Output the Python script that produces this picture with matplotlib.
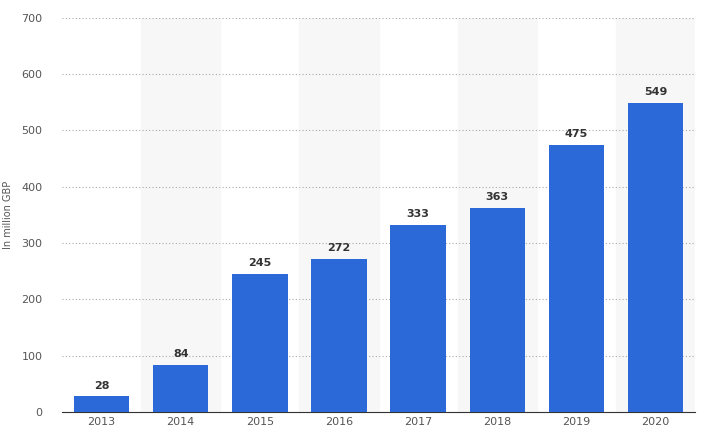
import matplotlib
matplotlib.use("Agg")
import matplotlib.pyplot as plt

years = ["2013", "2014", "2015", "2016", "2017", "2018", "2019", "2020"]
values = [28, 84, 245, 272, 333, 363, 475, 549]

fig = plt.figure(figsize=(7.05, 4.45), dpi=100)
ax = fig.add_axes([0.088, 0.074, 0.898, 0.886])

x = list(range(len(years)))
for i in x:
    if i % 2 == 1:
        ax.axvspan(i - 0.5, i + 0.5, color="#f7f7f7", zorder=0)

bars = ax.bar(x, values, width=0.7, color="#2a69d7", zorder=3)
for xi, v in zip(x, values):
    ax.text(xi, v + 10, str(v), ha="center", va="bottom", fontsize=8,
            fontweight="bold", color="#333333", zorder=4)

ax.set_xlim(-0.5, len(years) - 0.5)
ax.set_ylim(0, 700)
ax.set_yticks(range(0, 701, 100))
ax.set_xticks(x)
ax.set_xticklabels(years)
ax.tick_params(axis="both", length=0, labelsize=8, colors="#555555")
ax.tick_params(axis="y", pad=14)
ax.grid(axis="y", linestyle=(0, (1, 2)), color="#aaaaaa", linewidth=0.8, zorder=1)
for s in ["top", "right", "left"]:
    ax.spines[s].set_visible(False)
ax.spines["bottom"].set_color("#333333")
ax.set_ylabel("In million GBP", fontsize=7, color="#555555", labelpad=6)

fig.savefig("out.png", dpi=100)
